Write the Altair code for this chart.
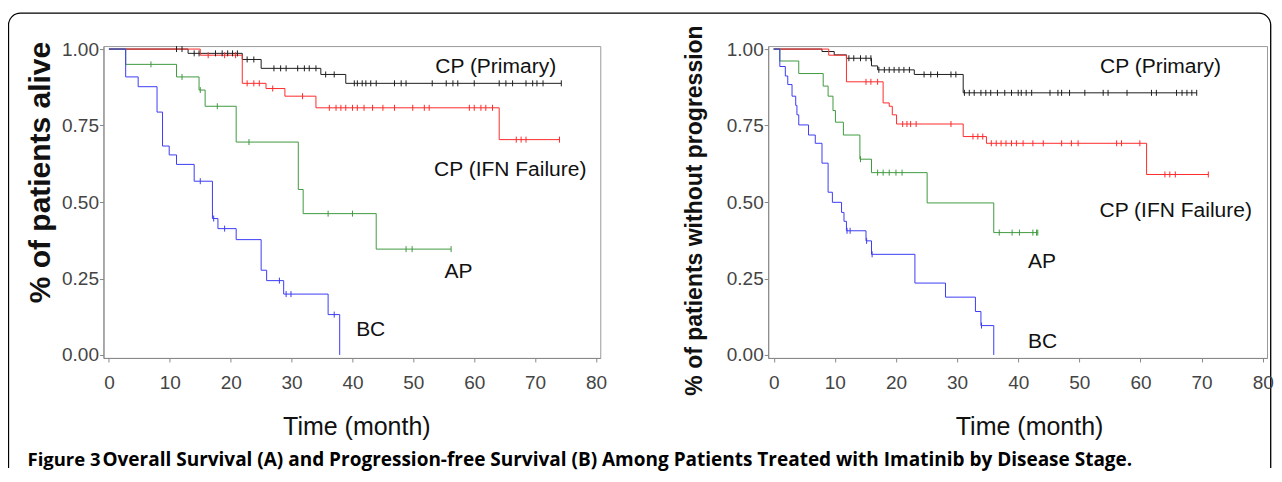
import altair as alt
import pandas as pd

# ---------------- Panel A: overall survival ----------------
os_cp_t = [0, 13.0, 21.9, 25.0, 34.8, 38.9, 74.3]
os_cp_s = [1.0, 0.986, 0.966, 0.937, 0.917, 0.888, 0.888]
os_cp_c = [11.1, 12.0, 14.0, 14.8, 17.5, 18.6, 19.5, 20.3, 21.1, 22.7, 23.8, 27.1, 28.2,
           29.1, 31.0, 32.1, 32.9, 34.0, 35.6, 37.0, 40.3, 40.8, 41.6, 42.2, 43.0, 43.9,
           46.9, 48.0, 48.8, 53.1, 55.4, 56.5, 57.3, 60.0, 64.1, 65.2, 66.3, 68.5, 69.6,
           70.3, 71.3, 74.3]

os_ifn_t = [0, 15.0, 21.9, 25.8, 28.9, 34.0, 64.1, 74.0]
os_ifn_s = [1.0, 0.980, 0.888, 0.871, 0.846, 0.808, 0.704, 0.704]
os_ifn_c = [16.3, 19.0, 20.8, 22.7, 23.8, 24.7, 26.9, 31.8, 36.2, 37.3, 38.1, 38.9, 40.0,
            40.8, 41.9, 43.3, 45.0, 46.9, 49.9, 51.8, 52.6, 59.2, 60.0, 61.1, 61.9, 63.0,
            66.9, 67.7, 68.5, 74.0]

os_ap_t = [0, 2.75, 11.1, 14.8, 15.8, 20.9, 31.1, 31.9, 43.9, 56.2]
os_ap_s = [1.0, 0.950, 0.909, 0.866, 0.813, 0.696, 0.541, 0.462, 0.346, 0.346]
os_ap_c = [6.9, 12.0, 15.0, 17.8, 23.0, 36.0, 40.0, 48.8, 49.8, 56.2]

os_bc_t = [0, 2.75, 4.8, 7.9, 8.8, 9.9, 11.1, 14.0, 17.0, 17.9, 20.9, 25.0, 25.9, 28.7, 36.0, 37.9]
os_bc_s = [1.0, 0.909, 0.877, 0.794, 0.683, 0.654, 0.623, 0.568, 0.446, 0.413, 0.377,
           0.277, 0.243, 0.199, 0.132, 0.0]
os_bc_c = [15.0, 17.2, 19.0, 28.0, 29.1, 29.9, 37.0]

# ---------------- Panel B: progression-free survival ----------------
pfs_cp_t = [0, 7.9, 9.9, 11.9, 16.0, 17.0, 23.0, 31.0, 69.2]
pfs_cp_s = [1.0, 0.992, 0.981, 0.970, 0.945, 0.932, 0.917, 0.857, 0.857]
pfs_cp_c = [12.3, 13.1, 14.2, 15.1, 15.9, 17.2, 18.1, 18.9, 19.7, 20.5, 21.3, 22.2, 24.6,
            25.7, 26.8, 29.0, 29.8, 31.2, 32.0, 32.8, 33.9, 34.7, 35.5, 36.6, 37.8, 38.9,
            40.0, 40.5, 41.3, 42.2, 45.2, 46.5, 47.1, 48.4, 50.9, 53.9, 54.7, 57.8, 61.8,
            62.6, 65.9, 66.8, 67.6, 68.4, 69.2]

pfs_ifn_t = [0, 9.0, 11.9, 17.9, 18.9, 19.4, 20.1, 31.0, 34.8, 61.0, 71.1]
pfs_ifn_s = [1.0, 0.980, 0.893, 0.824, 0.813, 0.785, 0.755, 0.714, 0.692, 0.590, 0.590]
pfs_ifn_c = [15.1, 15.9, 17.0, 21.1, 21.8, 22.4, 23.3, 29.0, 32.6, 33.4, 34.2, 35.6, 36.4,
             37.2, 38.0, 38.9, 39.7, 40.8, 42.4, 44.1, 47.1, 48.7, 49.8, 56.1, 56.9, 59.9,
             64.0, 64.8, 65.7, 71.1]

pfs_ap_t = [0, 1.0, 4.1, 8.1, 8.9, 9.7, 10.1, 11.4, 14.1, 16.0, 25.1, 36.0, 43.2]
pfs_ap_s = [1.0, 0.961, 0.920, 0.879, 0.846, 0.799, 0.761, 0.719, 0.640, 0.596, 0.497, 0.400, 0.400]
pfs_ap_c = [14.2, 17.0, 17.9, 18.9, 20.0, 21.0, 36.9, 39.0, 40.2, 42.4, 43.0, 43.2]

pfs_bc_t = [0, 1.0, 1.9, 2.3, 3.0, 3.6, 3.8, 4.1, 5.7, 6.8, 7.9, 8.9, 9.6, 11.1, 11.5, 11.9,
            15.1, 16.0, 23.1, 28.1, 33.0, 33.9, 36.0]
pfs_bc_s = [1.0, 0.943, 0.912, 0.884, 0.846, 0.816, 0.785, 0.752, 0.719, 0.692, 0.627, 0.532,
            0.499, 0.466, 0.437, 0.406, 0.373, 0.329, 0.235, 0.189, 0.142, 0.096, 0.0]
pfs_bc_c = [12.0, 12.5, 15.2, 16.1, 34.0]

groups = ["CP (Primary)", "CP (IFN Failure)", "AP", "BC"]
colors = ["#1e1e1e", "#ff2a2a", "#3f9a3f", "#3c3cf5"]

# annotation labels: text, x (month), y (survival)
os_lab_text = ["CP (Primary)", "CP (IFN Failure)", "AP", "BC"]
os_lab_x = [53.6, 53.4, 55.1, 40.6]
os_lab_y = [0.941, 0.605, 0.271, 0.082]
pfs_lab_text = ["CP (Primary)", "CP (IFN Failure)", "AP", "BC"]
pfs_lab_x = [53.4, 53.3, 41.6, 41.6]
pfs_lab_y = [0.941, 0.471, 0.304, 0.042]

x_ticks = [0, 10, 20, 30, 40, 50, 60, 70, 80]
y_ticks = [0.0, 0.25, 0.5, 0.75, 1.0]
caption_head = "Figure 3"
caption_rest = ("Overall Survival (A) and Progression-free Survival (B) Among Patients "
                "Treated with Imatinib by Disease Stage.")

FONT = "Liberation Sans"
H = 312


def surv_at(times, surv, t):
    val = surv[0]
    for ti, si in zip(times, surv):
        if ti <= t:
            val = si
    return val


def build_frames(curves):
    lines, cens = [], []
    for g, (t, s, c) in zip(groups, curves):
        for ti, si in zip(t, s):
            lines.append({"t": ti, "s": si, "g": g})
        for ci in c:
            cens.append({"t": ci, "s": surv_at(t, s, ci), "g": g})
    return pd.DataFrame(lines), pd.DataFrame(cens)


def panel(curves, lab_text, lab_x, lab_y, ytitle, ytitle_size, ytitle_pad, ytitle_y,
          xtitle_x, width, extra=None):
    lines, cens = build_frames(curves)
    xs = alt.Scale(domain=[-0.9, 80.7], nice=False, zero=False)
    ys = alt.Scale(domain=[-0.0098, 1.0098], nice=False, zero=False)
    color = alt.Color("g:N", scale=alt.Scale(domain=groups, range=colors), legend=None)
    xaxis = alt.Axis(values=x_ticks, format="d", title="Time (month)", grid=False,
                     labelFont=FONT, labelFontSize=19, labelColor="#444",
                     labelPadding=12, tickSize=4, tickColor="#888", domainColor="#888",
                     titleFont=FONT, titleFontSize=25, titleFontWeight="normal",
                     titleColor="#111", titlePadding=22, titleX=xtitle_x)
    yaxis = alt.Axis(values=y_ticks, format=".2f", title=ytitle, grid=False,
                     labelFont=FONT, labelFontSize=19, labelColor="#444",
                     labelPadding=1, tickSize=4, tickColor="#888", domainColor="#888",
                     titleFont=FONT, titleFontSize=ytitle_size, titleFontWeight="bold",
                     titleColor="#111", titlePadding=ytitle_pad, titleY=ytitle_y)
    base_x = alt.X("t:Q", scale=xs, axis=xaxis)
    base_y = alt.Y("s:Q", scale=ys, axis=yaxis)
    line = alt.Chart(lines).mark_line(interpolate="step-after", strokeWidth=1).encode(
        x=base_x, y=base_y, color=color, detail="g:N")
    ticks = alt.Chart(cens).mark_point(shape="M0,-3V3", size=4, filled=False,
                                       strokeWidth=1, opacity=1).encode(
        x=alt.X("t:Q", scale=xs), y=alt.Y("s:Q", scale=ys), color=color)
    labs = alt.Chart(pd.DataFrame({"t": lab_x, "s": lab_y, "txt": lab_text})).mark_text(
        align="left", baseline="middle", font=FONT, fontSize=21, color="#111").encode(
        x=alt.X("t:Q", scale=xs), y=alt.Y("s:Q", scale=ys), text="txt:N")
    layers = [line, ticks, labs]
    if extra:
        layers += extra
    return alt.layer(*layers).properties(width=width, height=H)


one = pd.DataFrame({"k": [0]})
border_path = "M-95,422V-21A12,12 0 0 1 -83,-33H1155.7A12,12 0 0 1 1167.7,-21V422"
border = alt.Chart(one).mark_point(shape=border_path, size=4, filled=False,
                                   stroke="black", strokeWidth=1.3, strokeJoin="round",
                                   opacity=1).encode(
    x=alt.value(0), y=alt.value(0))
cap1 = alt.Chart(one).mark_text(align="left", baseline="middle", font="Open Sans",
                                fontSize=18.5, fontWeight="bold", color="black").encode(
    x=alt.value(-76), y=alt.value(414), text=alt.value(caption_head))
cap2 = alt.Chart(one).mark_text(align="left", baseline="middle", font="Open Sans",
                                fontSize=19, fontWeight="bold", color="black").encode(
    x=alt.value(-1), y=alt.value(414), text=alt.value(caption_rest))

curves_os = [(os_cp_t, os_cp_s, os_cp_c), (os_ifn_t, os_ifn_s, os_ifn_c),
             (os_ap_t, os_ap_s, os_ap_c), (os_bc_t, os_bc_s, os_bc_c)]
curves_pfs = [(pfs_cp_t, pfs_cp_s, pfs_cp_c), (pfs_ifn_t, pfs_ifn_s, pfs_ifn_c),
              (pfs_ap_t, pfs_ap_s, pfs_ap_c), (pfs_bc_t, pfs_bc_s, pfs_bc_c)]

left = panel(curves_os, os_lab_text, os_lab_x, os_lab_y, "% of patients alive",
             30, 6, 126, 253, 497, extra=[border, cap1, cap2])
right = panel(curves_pfs, pfs_lab_text, pfs_lab_x, pfs_lab_y,
              "% of patients without progression", 23, 20, 164, 261, 499)

chart = alt.hconcat(left, right, spacing=168, bounds="flush").properties(
    padding={"left": -1.5, "top": 3, "right": 0, "bottom": 0}
).configure_view(stroke="#9a9a9a", strokeWidth=1)

chart.save("out.html", embed_options={"renderer": "svg", "actions": False})
